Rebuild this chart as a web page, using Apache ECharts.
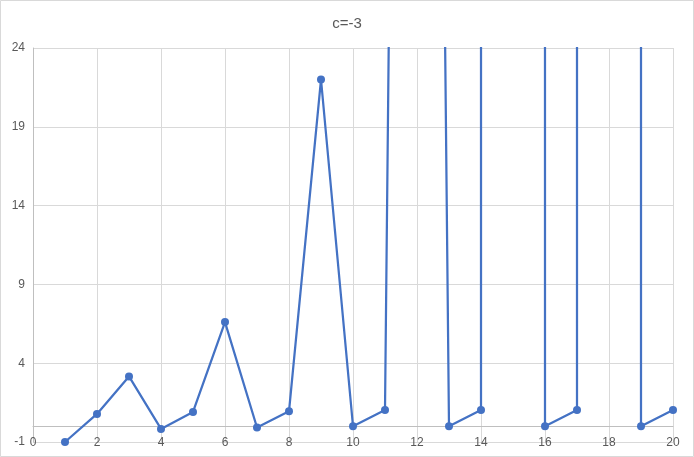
<!DOCTYPE html>
<html>
<head>
<meta charset="utf-8">
<script src="https://cdn.jsdelivr.net/npm/echarts@6/dist/echarts.min.js"></script>
<style>
html,body{margin:0;padding:0;background:#fff;}
#chart{width:694px;height:457px;}
</style>
</head>
<body>
<div id="chart"></div>
<script>
var titleText = "c=-3";
var xValues = [1,2,3,4,5,6,7,8,9,10,11,12,13,14,15,16,17,18,19,20];
var yValues = [-1,0.78,3.16,-0.17,0.91,6.61,-0.08,0.95,22.0,0,1.03,200,0,1.03,50000,0,1.03,10000000,0,1.03];
var xTicks = {min:0, max:20, interval:2};
var yTicks = {min:-1, max:24, interval:5};

var data = xValues.map(function(x,i){return [x, yValues[i]];});
var chart = echarts.init(document.getElementById('chart'), null, {renderer:'canvas'});
var font = "'Liberation Sans', Arial, sans-serif";
chart.setOption({
  animation:false,
  backgroundColor:'#ffffff',
  title:{text:titleText, left:'center', top:11, textStyle:{fontFamily:font, fontSize:15, fontWeight:'normal', color:'#595959'}},
  grid:{left:33, right:21, top:48, bottom:15, containLabel:false, outerBoundsMode:'none'},
  graphic:[{type:'rect', shape:{x:0.5,y:0.5,width:693,height:456}, style:{fill:null, stroke:'#d9d9d9', lineWidth:1}, silent:true, z:-1}],
  xAxis:{type:'value', min:xTicks.min, max:xTicks.max, interval:xTicks.interval,
    axisLine:{show:true, onZero:true, lineStyle:{color:'#bfbfbf', width:1}},
    axisTick:{show:false},
    splitLine:{show:true, lineStyle:{color:'#d9d9d9', width:1}},
    axisLabel:{color:'#595959', fontFamily:font, fontSize:12, margin:-5}
  },
  yAxis:{type:'value', min:yTicks.min, max:yTicks.max, interval:yTicks.interval,
    axisLine:{show:true, onZero:false, lineStyle:{color:'#bfbfbf', width:1}},
    axisTick:{show:false},
    splitLine:{show:true, lineStyle:{color:'#d9d9d9', width:1}},
    axisLabel:{color:'#595959', fontFamily:font, fontSize:12, margin:8}
  },
  series:[{type:'line', data:data, clip:true, symbol:'circle', symbolSize:8,
    showAllSymbol:true,
    lineStyle:{color:'#4472C4', width:2.25},
    itemStyle:{color:'#4472C4'}
  }]
});
</script>
</body>
</html>
